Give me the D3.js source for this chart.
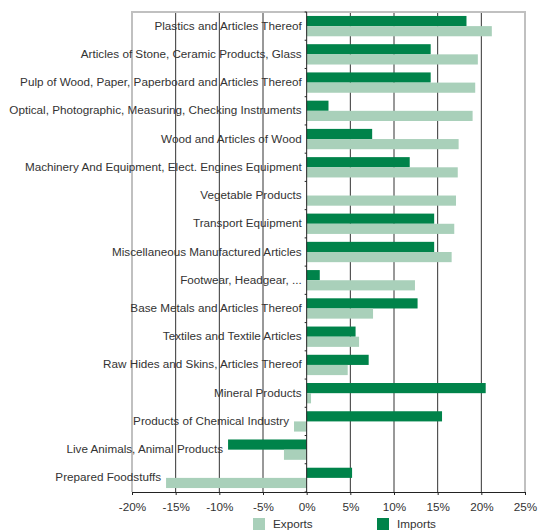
<!DOCTYPE html>
<html>
<head>
<meta charset="utf-8">
<script src="https://cdn.jsdelivr.net/npm/d3@7"></script>
<style>
  body { margin: 0; background: #fff; }
  text { font-family: "Liberation Sans", Arial, sans-serif; }
</style>
</head>
<body>
<div id="chart"></div>
<script>
const categories = [
  "Plastics and Articles Thereof",
  "Articles of Stone, Ceramic Products, Glass",
  "Pulp of Wood, Paper, Paperboard and Articles Thereof",
  "Optical, Photographic, Measuring, Checking Instruments",
  "Wood and Articles of Wood",
  "Machinery And Equipment, Elect. Engines Equipment",
  "Vegetable Products",
  "Transport Equipment",
  "Miscellaneous Manufactured Articles",
  "Footwear, Headgear, ...",
  "Base Metals and Articles Thereof",
  "Textiles and Textile Articles",
  "Raw Hides and Skins, Articles Thereof",
  "Mineral Products",
  "Products of Chemical Industry",
  "Live Animals, Animal Products",
  "Prepared Foodstuffs"
];
const imports = [18.3, 14.2, 14.2, 2.5, 7.5, 11.8, 0, 14.6, 14.6, 1.5, 12.7, 5.6, 7.1, 20.5, 15.5, -9.0, 5.2];
const exports = [21.2, 19.6, 19.3, 19.0, 17.4, 17.3, 17.1, 16.9, 16.6, 12.4, 7.6, 6.0, 4.7, 0.5, -1.45, -2.6, -16.1];
const xTicks = [-20, -15, -10, -5, 0, 5, 10, 15, 20, 25];

const width = 540, height = 532;
const margin = {top: 12, right: 15, bottom: 40, left: 132};
const colImp = "#00834a", colExp = "#a9d0ba";
const fs = 11.7;

const svg = d3.select("#chart").append("svg")
  .attr("width", width).attr("height", height);

const x = d3.scaleLinear().domain([-20, 25]).range([margin.left, width - margin.right]);
const y = d3.scaleBand().domain(categories).range([margin.top, height - margin.bottom]).paddingInner(0.28).paddingOuter(0.14);
const sub = d3.scaleBand().domain(["imp", "exp"]).range([0, y.bandwidth()]);

// gridlines
svg.append("g").selectAll("line").data(xTicks.filter(d => d > -20 && d < 25 && d !== 0)).join("line")
  .attr("x1", d => x(d)).attr("x2", d => x(d))
  .attr("y1", margin.top).attr("y2", height - margin.bottom)
  .attr("stroke", "#333").attr("stroke-width", 1);

// frame
svg.append("path")
  .attr("d", `M${x(-20)},${height - margin.bottom}V${margin.top}H${x(25)}V${height - margin.bottom}`)
  .attr("fill", "none").attr("stroke", "#c0c0c0").attr("stroke-width", 2);

const rows = categories.map((c, i) => ({c, imp: imports[i], exp: exports[i]}));

const g = svg.append("g").selectAll("g").data(rows).join("g")
  .attr("transform", d => `translate(0,${y(d.c)})`);

g.filter(d => d.imp !== 0).append("rect")
  .attr("x", d => x(Math.min(0, d.imp))).attr("y", sub("imp"))
  .attr("width", d => Math.abs(x(d.imp) - x(0))).attr("height", sub.bandwidth())
  .attr("fill", colImp);

g.append("rect")
  .attr("x", d => x(Math.min(0, d.exp))).attr("y", sub("exp"))
  .attr("width", d => Math.abs(x(d.exp) - x(0))).attr("height", sub.bandwidth())
  .attr("fill", colExp);

// category labels, placed left of the leftmost bar
g.append("text")
  .attr("x", d => x(Math.min(0, d.imp, d.exp)) - 5)
  .attr("y", y.bandwidth() / 2)
  .attr("dy", "0.3em")
  .attr("text-anchor", "end")
  .attr("font-size", fs)
  .attr("fill", "#333")
  .text(d => d.c);

// zero axis with ticks at band boundaries
const step = y.step();
svg.append("line")
  .attr("x1", x(0)).attr("x2", x(0))
  .attr("y1", margin.top).attr("y2", height - margin.bottom)
  .attr("stroke", "#222");
svg.append("g").selectAll("line").data(d3.range(categories.length + 1)).join("line")
  .attr("x1", x(0) - 2).attr("x2", x(0))
  .attr("y1", i => margin.top + i * step).attr("y2", i => margin.top + i * step)
  .attr("stroke", "#222");

// bottom axis
const xAxis = svg.append("g")
  .attr("transform", `translate(0,${height - margin.bottom})`)
  .call(d3.axisBottom(x).tickValues(xTicks).tickFormat(d => d + "%").tickSize(3).tickSizeOuter(0));
xAxis.select(".domain").attr("stroke", "#222");
xAxis.selectAll(".tick line").attr("stroke", "#222");
xAxis.selectAll("text").attr("font-size", fs).attr("fill", "#333")
  .attr("font-family", "Liberation Sans, Arial, sans-serif").attr("dy", "1.1em");

// legend
const legend = svg.append("g").attr("transform", `translate(253,518)`);
[["Exports", colExp, 0], ["Imports", colImp, 124]].forEach(([name, col, dx]) => {
  legend.append("rect").attr("x", dx).attr("y", 0).attr("width", 12).attr("height", 12).attr("fill", col);
  legend.append("text").attr("x", dx + 20).attr("y", 6).attr("dy", "0.35em")
    .attr("font-size", fs).attr("fill", "#333").text(name);
});
</script>
</body>
</html>
